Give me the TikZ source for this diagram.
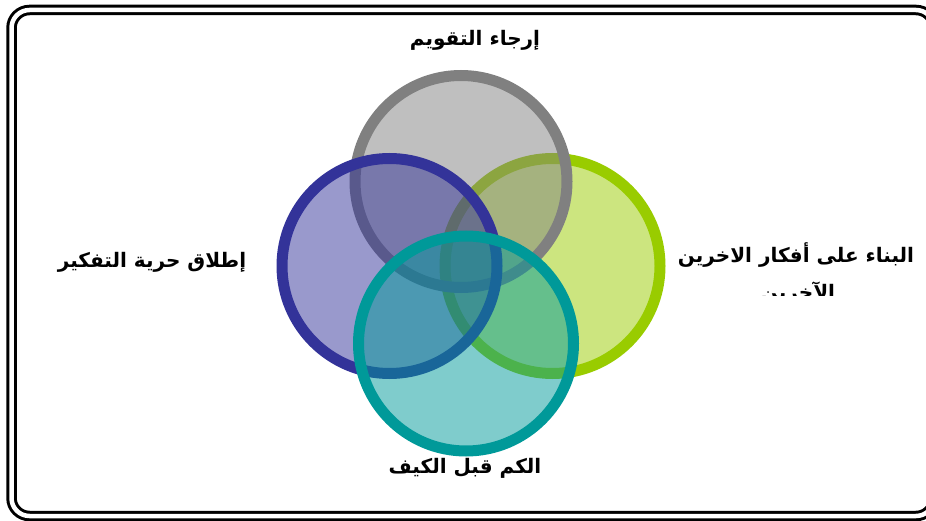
\documentclass[tikz,border=0pt]{standalone}
\usepackage{fontspec}
\usepackage{tikz}
\TeXXeTstate=1
\newfontfamily\arabicfont[Script=Arabic]{DejaVu Sans}
\definecolor{ringgray}{RGB}{128,128,128}
\definecolor{ringpurple}{RGB}{51,51,153}
\definecolor{ringgreen}{RGB}{153,204,0}
\definecolor{ringteal}{RGB}{0,153,153}

\begin{document}
\begin{tikzpicture}[x=1pt,y=-1pt,
    venn/.style={line width=11pt,draw=#1,fill=#1,fill opacity=0.5},
    lbl/.style={font=\arabicfont\bfseries\fontsize{20}{24}\selectfont,inner sep=0pt}]
        \useasboundingbox (0,0) rectangle (926,521);
        \draw[line width=3pt,double=white,double distance=4.5pt,rounded corners=18pt] (11.5,10) rectangle (934,516);
        \draw[venn=ringgreen] (552.5,266) circle[radius=107.5];
        \draw[venn=ringgray] (461,181.5) circle[radius=106];
        \draw[venn=ringpurple] (389.5,266) circle[radius=107.5];
        \draw[venn=ringteal] (466,343.5) circle[radius=107.5];
        \node[lbl] (top) at (475,40) {\beginR إرجاء التقويم\endR};
        \node[lbl] (left) at (152,262) {\beginR إطلاق حرية التفكير\endR};
        \node[lbl] (right) at (796,255) {\beginR البناء على أفكار الاخرين\endR};
        \begin{scope}
        \clip (650,276) rectangle (926,296);
        \node[lbl] (rightb) at (798,293) {\beginR الآخرين\endR};
        \end{scope}
        \node[lbl] (bottom) at (465,468) {\beginR الكم قبل الكيف\endR};
\end{tikzpicture}
\end{document}
